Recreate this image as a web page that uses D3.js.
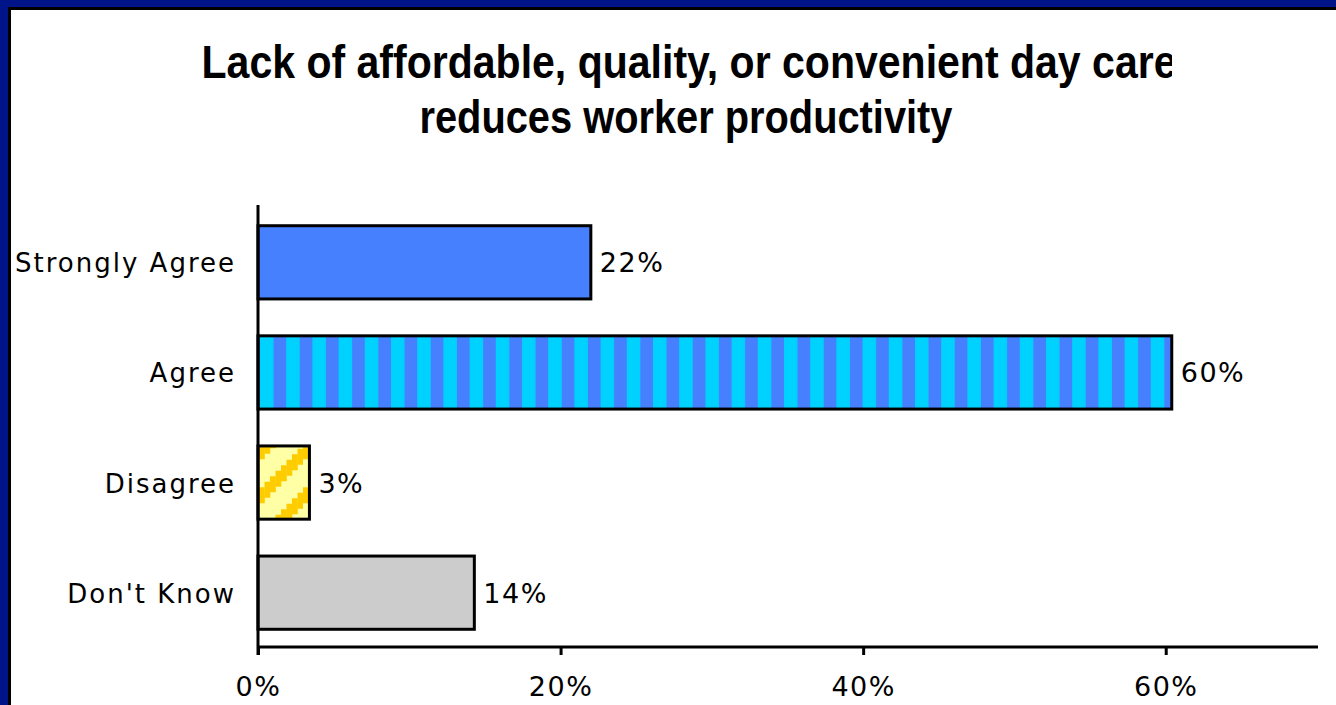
<!DOCTYPE html>
<html><head><meta charset="utf-8">
<script src="https://cdn.jsdelivr.net/npm/d3@7"></script>
<style>html,body{margin:0;padding:0;background:#fff;overflow:hidden}</style>
</head><body>
<svg id="chart" width="1336" height="705"></svg>
<script>
const categories = ["Strongly Agree", "Agree", "Disagree", "Don't Know"];
const values = [22.0, 60.4, 3.4, 14.3];
const valueLabels = ["22%", "60%", "3%", "14%"];
const tickValues = [0, 20, 40, 60];
const titleLines = ["Lack of affordable, quality, or convenient day care", "reduces worker productivity"];

const svg = d3.select("#chart");
// frame
svg.append("rect").attr("x",0).attr("y",0).attr("width",1336).attr("height",705).attr("fill","#001489");
svg.append("rect").attr("x",8).attr("y",7).attr("width",1340).attr("height",720).attr("fill","#000");
svg.append("rect").attr("x",11).attr("y",10).attr("width",1340).attr("height",720).attr("fill","#fff");

const defs = svg.append("defs");
const p1 = defs.append("pattern").attr("id","stripes").attr("patternUnits","userSpaceOnUse")
  .attr("x",260).attr("y",0).attr("width",26.2).attr("height",10);
p1.append("rect").attr("width",26.2).attr("height",10).attr("fill","#4680ff");
p1.append("rect").attr("width",13.5).attr("height",10).attr("fill","#00d2ff");

const P = 44, steps = 8, sw = P / steps, half = 8;
const p2 = defs.append("pattern").attr("id","diag").attr("patternUnits","userSpaceOnUse")
  .attr("x",259).attr("y",448).attr("width",P).attr("height",P);
p2.append("rect").attr("width",P).attr("height",P).attr("fill","#ffffa6");
d3.range(steps).forEach(i => {
  const cy = 50 - (i + 0.5) * sw;
  [-P, 0, P].forEach(off => {
    p2.append("rect").attr("x", i*sw).attr("y", cy - half + off).attr("width", sw + 0.3).attr("height", half*2).attr("fill","#ffcc00");
  });
});
const fills = ["#4680ff", "url(#stripes)", "url(#diag)", "#cccccc"];

const x = d3.scaleLinear().domain([0,70]).range([258,1317]);
const y = d3.scaleBand().domain(categories).range([207,648]).paddingInner(0.335).paddingOuter(0.17);

// title
const clip = defs.append("clipPath").attr("id","tclip");
clip.append("rect").attr("x",0).attr("y",0).attr("width",1172).attr("height",200);
const tg = svg.append("g").attr("clip-path","url(#tclip)");
tg.append("text").attr("x",689).attr("y",78).attr("text-anchor","middle")
  .attr("font-family","Liberation Sans, Arial, sans-serif").attr("font-weight","bold").attr("font-size",46)
  .attr("textLength",975).attr("lengthAdjust","spacingAndGlyphs").text(titleLines[0]);
tg.append("text").attr("x",686).attr("y",133).attr("text-anchor","middle")
  .attr("font-family","Liberation Sans, Arial, sans-serif").attr("font-weight","bold").attr("font-size",46)
  .attr("textLength",533).attr("lengthAdjust","spacingAndGlyphs").text(titleLines[1]);

// bars
svg.selectAll("rect.bar").data(categories).join("rect").attr("class","bar")
  .attr("x", x(0)).attr("y", d => y(d))
  .attr("width", (d,i) => x(values[i]) - x(0)).attr("height", y.bandwidth())
  .attr("fill", (d,i) => fills[i]).attr("stroke","#000").attr("stroke-width",3);

// value labels
svg.selectAll("text.val").data(categories).join("text").attr("class","val")
  .attr("x", (d,i) => x(values[i]) + 9).attr("y", d => y(d) + y.bandwidth()/2 + 10)
  .attr("font-family","DejaVu Sans, sans-serif").attr("font-size",27).attr("letter-spacing",1.5)
  .text((d,i) => valueLabels[i]);

// category labels
svg.selectAll("text.cat").data(categories).join("text").attr("class","cat")
  .attr("x", 236).attr("y", d => y(d) + y.bandwidth()/2 + 10).attr("text-anchor","end")
  .attr("font-family","DejaVu Sans, sans-serif").attr("font-size",26).attr("letter-spacing",2)
  .text(d => d);

// axes
const xAxis = d3.axisBottom(x).tickValues(tickValues).tickFormat(d => d + "%").tickSize(8).tickPadding(22);
const gx = svg.append("g").attr("transform","translate(0,647)").call(xAxis);
gx.select(".domain").attr("d","M258,0H1318").attr("stroke","#000").attr("stroke-width",3);
gx.selectAll(".tick line").attr("stroke","#000").attr("stroke-width",3);
gx.selectAll(".tick text").attr("font-family","DejaVu Sans, sans-serif").attr("font-size",27)
  .attr("letter-spacing",1.5).attr("fill","#000");

svg.append("line").attr("x1",258).attr("x2",258).attr("y1",205).attr("y2",655).attr("stroke","#000").attr("stroke-width",3);
</script>
</body></html>
